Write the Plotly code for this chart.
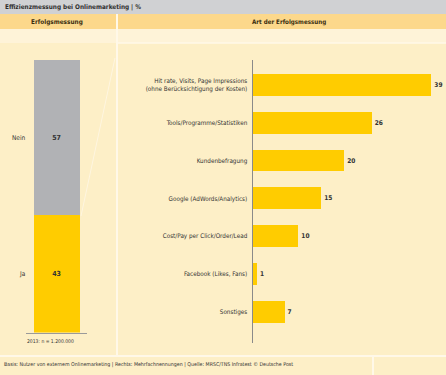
import plotly.graph_objects as go

# ---- data ----
left_labels = ["Ja", "Nein"]
left_values = [43, 57]
left_note = "2013: n = 1.200.000"

categories = [
    "Hit rate, Visits, Page Impressions<br>(ohne Berücksichtigung der Kosten)",
    "Tools/Programme/Statistiken",
    "Kundenbefragung",
    "Google (AdWords/Analytics)",
    "Cost/Pay per Click/Order/Lead",
    "Facebook (Likes, Fans)",
    "Sonstiges",
]
values = [39, 26, 20, 15, 10, 1, 7]

title = "Effizienzmessung bei Onlinemarketing | %"
header_left = "Erfolgsmessung"
header_right = "Art der Erfolgsmessung"
footnote = ("Basis: Nutzer von externem Onlinemarketing | Rechts: Mehrfachnennungen | "
            "Quelle: MRSC/TNS Infratest © Deutsche Post")

# ---- style ----
W, H = 446, 375
YELLOW = "#ffcc00"
GRAY = "#b1b2b5"
CREAM = "#fdefc7"
TXT = "#333333"
FONT = "Liberation Sans Narrow, DejaVu Sans Condensed, Arial Narrow, sans-serif"


def py(p):  # pixel y (from top) -> paper
    return 1 - p / H


def px(p):
    return p / W


fig = go.Figure()

left_colors = [YELLOW, GRAY]
for lab, val, col in zip(left_labels, left_values, left_colors):
    fig.add_trace(go.Bar(
        x=[0], y=[val], name=lab, marker=dict(color=col, line=dict(width=0)),
        width=0.754, text=[str(val)], textposition="inside", insidetextanchor="middle",
        textfont=dict(family=FONT, size=7, color=TXT, weight="bold"),
        xaxis="x", yaxis="y", showlegend=False, hoverinfo="skip",
    ))

fig.add_trace(go.Bar(
    y=list(range(len(categories))), x=values, orientation="h",
    marker=dict(color=YELLOW, line=dict(width=0)), width=0.58,
    text=[str(v) for v in values], textposition="outside", cliponaxis=False,
    constraintext="none",
    textfont=dict(family=FONT, size=6.5, color=TXT, weight="bold"),
    xaxis="x2", yaxis="y2", showlegend=False, hoverinfo="skip",
))

annotations = []
cum = 0
for lab, val in zip(left_labels, left_values):
    annotations.append(dict(
        x=-0.5, y=cum + val / 2, xref="x", yref="y", text=lab, showarrow=False,
        xanchor="right", xshift=2, font=dict(family=FONT, size=6.5, color=TXT)))
    cum += val

annotations += [
    dict(x=px(3), y=py(7), xref="paper", yref="paper", text="<b>%s</b>" % title,
         showarrow=False, xanchor="left", yanchor="middle",
         font=dict(family=FONT, size=6.4, color="#2e2e2e")),
    dict(x=px(57), y=py(21.5), xref="paper", yref="paper", text="<b>%s</b>" % header_left,
         showarrow=False, xanchor="center", yanchor="middle",
         font=dict(family=FONT, size=6.4, color="#3a2e10")),
    dict(x=px(289), y=py(21.5), xref="paper", yref="paper", text="<b>%s</b>" % header_right,
         showarrow=False, xanchor="center", yanchor="middle",
         font=dict(family=FONT, size=6.2, color="#3a2e10")),
    dict(x=px(50), y=py(341), xref="paper", yref="paper", text=left_note,
         showarrow=False, xanchor="center", yanchor="middle",
         font=dict(family=FONT, size=5, color=TXT)),
    dict(x=px(2), y=py(364), xref="paper", yref="paper", text=footnote,
         showarrow=False, xanchor="left", yanchor="middle",
         font=dict(family=FONT, size=5.25, color=TXT)),
]

shapes = [
    dict(type="rect", xref="paper", yref="paper", x0=0, x1=1, y0=py(14), y1=1,
         fillcolor="#d0d1d3", line=dict(width=0), layer="below"),
    dict(type="rect", xref="paper", yref="paper", x0=0, x1=1, y0=py(29), y1=py(14),
         fillcolor="#fcd88b", line=dict(width=0), layer="below"),
    dict(type="rect", xref="paper", yref="paper", x0=0, x1=1, y0=py(43), y1=py(29),
         fillcolor="#fef3d8", line=dict(width=0), layer="below"),
    dict(type="line", xref="paper", yref="paper", x0=px(117), x1=px(117), y0=py(356), y1=py(14),
         line=dict(color="#fff8e8", width=2), layer="below"),
    dict(type="line", xref="paper", yref="paper", x0=px(118), x1=1, y0=py(43), y1=py(43),
         line=dict(color="#fff8e8", width=1.5), layer="below"),
    dict(type="line", xref="paper", yref="paper", x0=0, x1=1, y0=py(356), y1=py(356),
         line=dict(color="#fff8e8", width=2), layer="below"),
    dict(type="line", xref="paper", yref="paper", x0=px(373), x1=px(373), y0=0, y1=py(356),
         line=dict(color="#fff8e8", width=2), layer="below"),
    dict(type="line", xref="paper", yref="paper", x0=px(81), x1=px(115), y0=py(216), y1=py(58),
         line=dict(color="#fff6e0", width=1), layer="below"),
]

fig.update_layout(
    width=W, height=H, margin=dict(l=0, r=0, t=0, b=0),
    paper_bgcolor=CREAM, plot_bgcolor="rgba(0,0,0,0)",
    barmode="stack", font=dict(family=FONT, color=TXT),
    annotations=annotations, shapes=shapes,
    xaxis=dict(domain=[px(26), px(87)], range=[-0.5, 0.5], showticklabels=False,
               showgrid=False, zeroline=False, showline=True, linecolor="#9a9a9a",
               linewidth=1, ticks="", fixedrange=True),
    yaxis=dict(domain=[py(332.5), py(60)], range=[0, 100], showticklabels=False,
               showgrid=False, zeroline=False, showline=False, ticks=""),
    xaxis2=dict(domain=[px(252.5), 1], range=[0, 42.2], showticklabels=False,
                showgrid=False, zeroline=False, showline=False, ticks="",
                anchor="y2"),
    yaxis2=dict(domain=[py(343), py(60)], range=[6.83, -0.66], anchor="x2",
                tickmode="array", tickvals=list(range(len(categories))), ticktext=categories,
                showgrid=False, zeroline=False, showline=True, linecolor="#8a8a8a",
                linewidth=1, ticks="", ticklabelstandoff=3,
                tickfont=dict(family=FONT, size=6.3, color=TXT)),
)

fig.write_html(
    "out.html",
    config={"displayModeBar": False},
    post_script="document.body.style.margin='0';document.body.style.padding='0';"
                "document.body.style.background='%s';" % CREAM,
)
